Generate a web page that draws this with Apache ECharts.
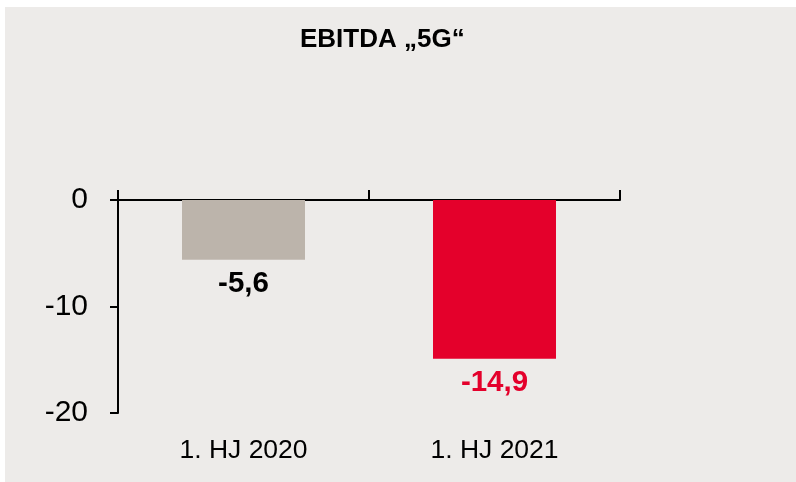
<!DOCTYPE html>
<html>
<head>
<meta charset="utf-8">
<script src="https://cdn.jsdelivr.net/npm/echarts@6/dist/echarts.min.js"></script>
<style>
  body { margin: 0; background: #ffffff; }
  #chart { position: absolute; left: 5px; top: 7px; width: 791px; height: 475px; background: #edebe9; }
</style>
</head>
<body>
<div id="chart"></div>
<script>
// Daten
var categories = ['1. HJ 2020', '1. HJ 2021'];
var values = [-5.6, -14.9];
var barColors = ['#bcb4ab', '#e4002b'];
var labelColors = ['#000000', '#e4002b'];

var font = '"Liberation Sans Narrow", "Arial Narrow", "Liberation Sans", sans-serif';

var chart = echarts.init(document.getElementById('chart'));

var option = {
  animation: false,
  title: {
    text: 'EBITDA „5G“',
    left: 290,
    top: 15,
    textStyle: { fontFamily: font, fontSize: 26, fontWeight: 'bold', color: '#000' }
  },
  grid: { left: 113, top: 193, right: 176, bottom: 69 },
  xAxis: [
    {
      type: 'category',
      position: 'top',
      data: categories,
      axisLine: { onZero: false, lineStyle: { color: '#000', width: 2 } },
      axisTick: { show: true, length: 10, lineStyle: { color: '#000', width: 2 } },
      axisLabel: { show: false }
    },
    {
      type: 'category',
      position: 'bottom',
      data: categories,
      axisLine: { show: false },
      axisTick: { show: false },
      axisLabel: { margin: 24, fontFamily: font, fontSize: 26.5, color: '#000' }
    }
  ],
  yAxis: {
    type: 'value',
    min: -20,
    max: 0,
    interval: 10,
    splitLine: { show: false },
    axisLine: { show: true, lineStyle: { color: '#000', width: 2 } },
    axisTick: { show: true, length: 8, lineStyle: { color: '#000', width: 2 } },
    axisLabel: { margin: 30, fontFamily: font, fontSize: 30, color: '#000' }
  },
  series: [{
    type: 'bar',
    xAxisIndex: 0,
    barWidth: '49%',
    data: values.map(function (v, i) {
      return {
        value: v,
        itemStyle: { color: barColors[i] },
        label: { color: labelColors[i] }
      };
    }),
    label: {
      show: true,
      position: 'bottom',
      distance: 9,
      fontFamily: font,
      fontSize: 29.5,
      fontWeight: 'bold',
      formatter: function (p) { return String(p.value).replace('.', ','); }
    }
  }]
};

chart.setOption(option);
</script>
</body>
</html>
